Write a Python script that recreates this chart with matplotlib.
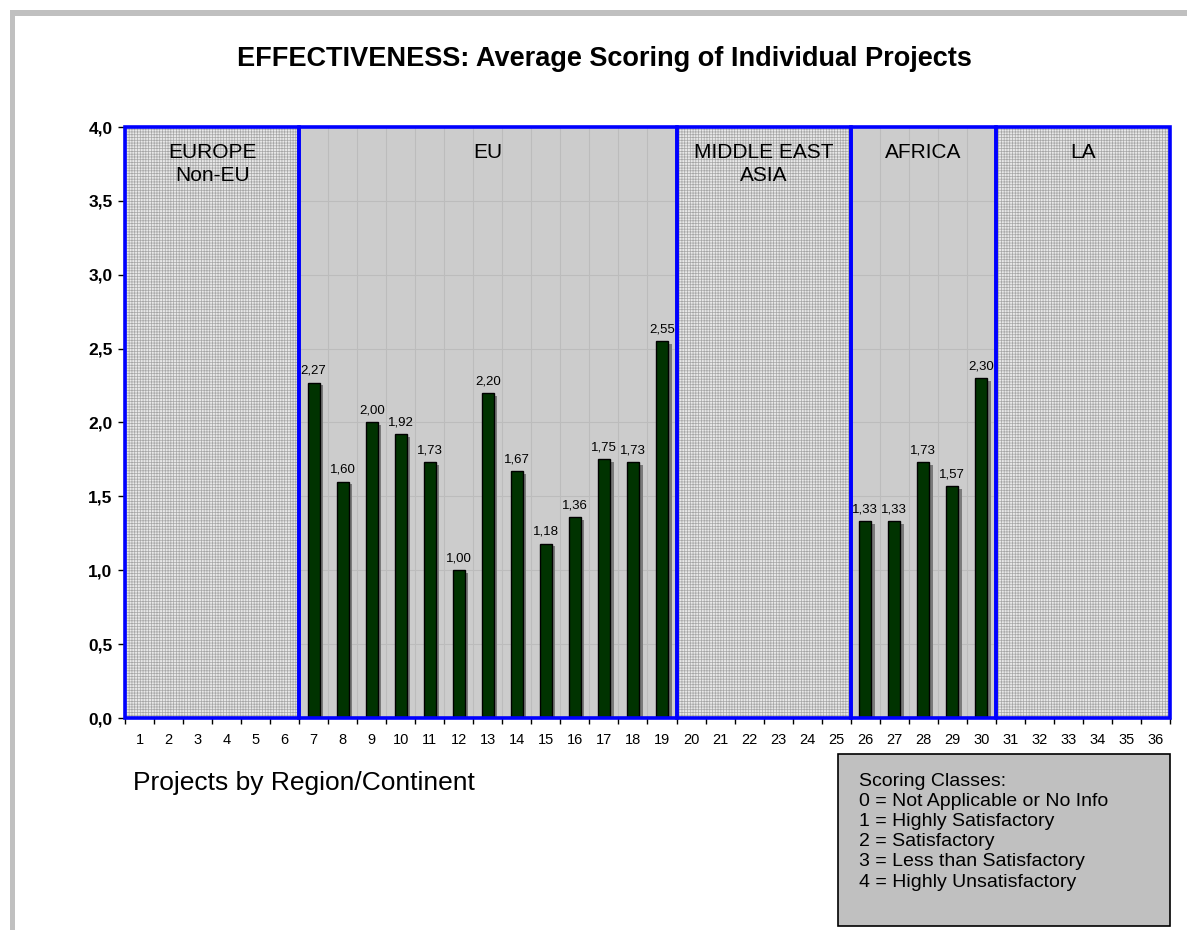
"""Bar chart of average effectiveness scores per project, grouped by region."""

import matplotlib

matplotlib.use("Agg")

import matplotlib.pyplot as plt
import matplotlib.patheffects as pe
from matplotlib.patches import Rectangle

plt.rcParams["font.family"] = ["Liberation Sans", "DejaVu Sans"]
plt.rcParams["hatch.linewidth"] = 0.5
plt.rcParams["hatch.color"] = "#a6a6a6"

# project numbers 1..36, scores only where available
PROJECTS = list(range(1, 37))
SCORED_PROJECTS = [7, 8, 9, 10, 11, 12, 13, 14, 15, 16, 17, 18, 19, 26, 27, 28, 29, 30]
SCORES = [2.27, 1.60, 2.00, 1.92, 1.73, 1.00, 2.20, 1.67, 1.18, 1.36, 1.75, 1.73, 2.55,
          1.33, 1.33, 1.73, 1.57, 2.30]

REGION_NAMES = ["EUROPE\nNon-EU", "EU", "MIDDLE EAST\nASIA", "AFRICA", "LA"]
REGION_FIRST = [1, 7, 20, 26, 31]
REGION_LAST = [6, 19, 25, 30, 36]
REGION_HAS_DATA = [False, True, False, True, False]

Y_TICKS = [0.0, 0.5, 1.0, 1.5, 2.0, 2.5, 3.0, 3.5, 4.0]

LEGEND_LINES = [
    "Scoring Classes:",
    "0 = Not Applicable or No Info",
    "1 = Highly Satisfactory",
    "2 = Satisfactory",
    "3 = Less than Satisfactory",
    "4 = Highly Unsatisfactory",
]

W, H = 1187, 930


def fx(px):
    return px / W


def fy(py):
    return 1 - py / H


fig = plt.figure(figsize=(W / 100, H / 100), dpi=100)
fig.patch.set_facecolor("white")

# grey outer frame (top and left edges)
fig.patches.append(Rectangle((fx(10), fy(16)), fx(1177), 6 / H, transform=fig.transFigure,
                             facecolor="#c0c0c0", edgecolor="none"))
fig.patches.append(Rectangle((fx(10), 0), 5 / W, fy(10), transform=fig.transFigure,
                             facecolor="#c0c0c0", edgecolor="none"))

ax = fig.add_axes([fx(125), fy(718), fx(1170 - 125), (718 - 127) / H])
ax.set_facecolor("#cccccc")
ax.set_xlim(0.5, 36.5)
ax.set_ylim(0, 4.0)

# grid lines at category boundaries and every 0.5
for b in range(1, 36):
    ax.axvline(b + 0.5, color="#bcbcbc", lw=0.8, zorder=0.5)
for t in Y_TICKS[1:-1]:
    ax.axhline(t, color="#bcbcbc", lw=0.8, zorder=0.5)

# region panels
for name, first, last, has_data in zip(REGION_NAMES, REGION_FIRST, REGION_LAST, REGION_HAS_DATA):
    x0, x1 = first - 0.5, last + 0.5
    if not has_data:
        ax.add_patch(Rectangle((x0, 0), x1 - x0, 4.0, facecolor="#e8e8e8", hatch="++++++",
                               edgecolor="#a6a6a6", lw=0, zorder=1))
    ax.add_patch(Rectangle((x0, 0), x1 - x0, 4.0, facecolor="none", edgecolor="#0000ff",
                           lw=2.6, zorder=4, clip_on=False))
    ax.text((x0 + x1) / 2, 3.895, name, ha="center", va="top", fontsize=15,
            linespacing=1.3, zorder=5)

bars = ax.bar(SCORED_PROJECTS, SCORES, width=0.42, color="#003300", edgecolor="black",
              lw=1.0, zorder=3)
for bar in bars:
    bar.set_path_effects([pe.SimplePatchShadow(offset=(2.5, -2.0), shadow_rgbFace="#7a7a7a",
                                               alpha=1.0), pe.Normal()])

for x, v in zip(SCORED_PROJECTS, SCORES):
    ax.text(x, v + 0.04, f"{v:.2f}".replace(".", ","), ha="center", va="bottom",
            fontsize=9.5, zorder=5)

for s in ax.spines.values():
    s.set_visible(False)

ax.set_yticks(Y_TICKS)
ax.set_yticklabels([f"{t:.1f}".replace(".", ",") for t in Y_TICKS], fontsize=12.5,
                   fontweight="bold")
ax.tick_params(axis="y", length=5, width=1, pad=4)

ax.set_xticks(PROJECTS)
ax.set_xticklabels([str(p) for p in PROJECTS], fontsize=10.5)
ax.set_xticks([b + 0.5 for b in range(0, 37)], minor=True)
ax.tick_params(axis="x", which="major", length=0, pad=11)
ax.tick_params(axis="x", which="minor", length=4, width=1)

fig.text(fx(604), fy(59), "EFFECTIVENESS: Average Scoring of Individual Projects",
         ha="center", va="center", fontsize=19.5, fontweight="bold")
fig.text(fx(133), fy(783), "Projects by Region/Continent", ha="left", va="center",
         fontsize=19)

# scoring classes box
fig.patches.append(Rectangle((fx(838), fy(926)), fx(1170 - 838), (926 - 754) / H,
                             transform=fig.transFigure, facecolor="#c0c0c0",
                             edgecolor="black", lw=1.2))
for i, line in enumerate(LEGEND_LINES):
    fig.text(fx(859), fy(781 + 20.2 * i), line, ha="left", va="center", fontsize=14)

fig.savefig("out.png", dpi=100)
